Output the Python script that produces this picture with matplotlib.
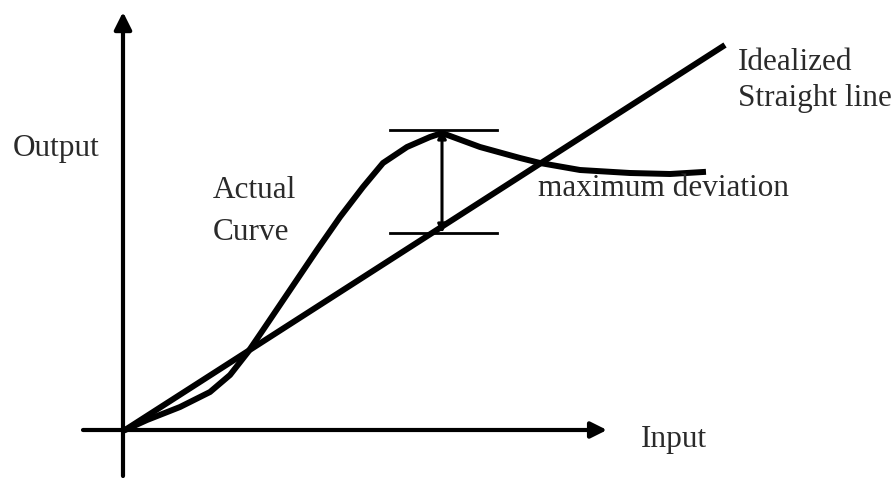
import matplotlib
matplotlib.use('Agg')
import matplotlib.pyplot as plt

# origin of the sketch is (0, 0); units are roughly pixels of the original drawing
ideal_x = [2, 602]
ideal_y = [0, 385]

actual_x = [2, 24, 57, 87, 107, 125, 140, 167, 194, 217, 240, 260, 284, 307, 319,
            357, 397, 417, 457, 507, 547, 580]
actual_y = [0, 10, 23, 38, 55, 78, 100, 140, 180, 213, 243, 267, 283, 293, 297,
            283, 272, 267, 260, 257, 256, 258]

# maximum deviation marker
dev_x = 319
dev_top = 300
dev_bottom = 197
tick_left = 267
tick_right = 374

label_text = ['Output', 'Actual', 'Curve', 'Idealized', 'Straight line',
              'maximum deviation', 'Input']
label_x = [-110, 90, 90, 615, 615, 415, 518]
label_y = [282, 240, 198, 368, 332, 242, -10]

plt.rcParams['font.family'] = ['Liberation Serif', 'DejaVu Serif']

fig = plt.figure(figsize=(8.96, 4.79), dpi=100)
ax = fig.add_axes([0, 0, 1, 1])
ax.set_xlim(-123, 773)
ax.set_ylim(-49, 430)
ax.axis('off')

# axes with arrows, drawn in one piece each
ax.annotate('', xy=(484, 0), xytext=(-40, 0),
            arrowprops=dict(arrowstyle='-|>', color='black', lw=3,
                            mutation_scale=24, shrinkA=0, shrinkB=0))
ax.annotate('', xy=(0, 418), xytext=(0, -46),
            arrowprops=dict(arrowstyle='-|>', color='black', lw=3,
                            mutation_scale=26, shrinkA=0, shrinkB=0))

# curves
ax.plot(ideal_x, ideal_y, color='black', lw=4.3, solid_capstyle='butt')
ax.plot(actual_x, actual_y, color='black', lw=4.3, solid_joinstyle='round')

# deviation marker
ax.plot([tick_left, tick_right], [dev_top, dev_top], color='black', lw=2)
ax.plot([tick_left, tick_right], [dev_bottom, dev_bottom], color='black', lw=2)
ax.annotate('', xy=(dev_x, dev_top), xytext=(dev_x, dev_bottom),
            arrowprops=dict(arrowstyle='<|-|>', color='black', lw=2.2,
                            mutation_scale=12, shrinkA=0, shrinkB=0))

for text, tx, ty in zip(label_text, label_x, label_y):
    ax.text(tx, ty, text, ha='left', va='center', fontsize=22.5,
            color='#2a2a2a')

fig.savefig('out.png', dpi=100)
plt.close(fig)
